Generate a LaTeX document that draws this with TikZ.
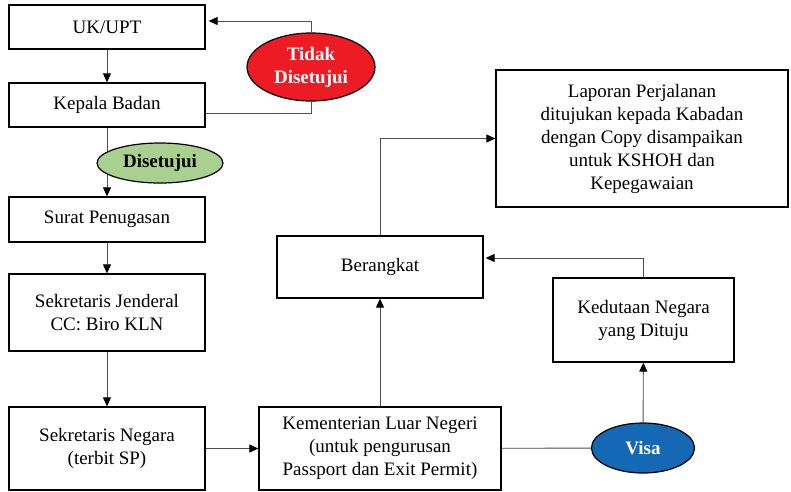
\documentclass[tikz,border=0pt]{standalone}
\usepackage{fontspec}
\setmainfont{Liberation Serif}
\usetikzlibrary{arrows.meta,shapes.geometric}

\definecolor{tolakred}{RGB}{237,28,36}
\definecolor{setujugreen}{RGB}{169,208,142}
\definecolor{visablue}{RGB}{20,104,180}
\definecolor{linegray}{RGB}{80,80,80}

\tikzset{
  box/.style={draw=black, line width=1.3pt, rectangle, align=center, inner sep=0pt,
              font=\fontsize{19}{23}\selectfont},
  oval/.style={draw=black, line width=1.2pt, ellipse, align=center, inner sep=0pt,
               font=\fontsize{19}{23}\selectfont\bfseries},
  arr/.style={draw=linegray, line width=0.9pt, -{Triangle[length=9pt,width=8pt,black]}},
  ln/.style={draw=linegray, line width=0.9pt}
}

\begin{document}
\begin{tikzpicture}[x=1pt, y=-1pt]                         % 1pt = 1px of the page
    \useasboundingbox (0,0) rectangle (791,491);

    % left column
    \node[box, minimum width=196pt, minimum height=44pt] (uk) at (107,27) {UK/UPT};
    \node[box, minimum width=196pt, minimum height=44pt] (kepala) at (107,105) {Kepala Badan};
    \node[box, minimum width=196pt, minimum height=45pt] (surat) at (107,219.5) {Surat Penugasan};
    \node[box, minimum width=196pt, minimum height=77pt] (sekjen) at (107,312.5) {Sekretaris Jenderal\\CC: Biro KLN};
    \node[box, minimum width=196pt, minimum height=83pt] (sekneg) at (107,448.5) {Sekretaris Negara\\(terbit SP)};

    % middle and right
    \node[box, minimum width=242pt, minimum height=83pt] (kemlu) at (380,448.5)
        {Kementerian Luar Negeri\\(untuk pengurusan\\Passport dan Exit Permit)};
    \node[box, minimum width=206pt, minimum height=62pt] (berangkat) at (380,267) {Berangkat};
    \node[box, minimum width=181pt, minimum height=84pt] (kedutaan) at (643.5,320) {Kedutaan Negara\\yang Dituju};
    \node[box, minimum width=292pt, minimum height=137pt] (laporan) at (642,138.5)
        {Laporan Perjalanan\\ditujukan kepada Kabadan\\dengan Copy disampaikan\\untuk KSHOH dan\\Kepegawaian};

    \node[oval, fill=tolakred, text=white, minimum width=128pt, minimum height=68pt] (tidak) at (311,67) {Tidak\\Disetujui};
    \node[oval, fill=visablue, text=white, minimum width=103pt, minimum height=50pt] (visa) at (643,448) {Visa};

    % connectors
    \draw[arr] (uk) -- (kepala);
    \draw[ln] ([yshift=-8pt]kepala.east) -| (tidak.south);
    \draw[arr] (tidak.north) |- ([xshift=3pt,yshift=6pt]uk.east);
    \draw[arr] (kepala) -- (surat);
    \draw[arr] (surat) -- (sekjen);
    \draw[arr] (sekjen) -- (sekneg);
    \draw[arr] (sekneg) -- (kemlu);
    \draw[ln] (kemlu) -- (visa);
    \draw[arr] (visa) -- (kedutaan);
    \draw[arr] (kedutaan.north) |- ([xshift=2pt,yshift=9pt]berangkat.east);
    \draw[arr] (kemlu) -- (berangkat);
    \draw[arr] (berangkat.north) |- (laporan.west);

    % on top of the Kepala Badan -> Surat line
    \node[oval, fill=setujugreen, minimum width=126pt, minimum height=40pt] (setuju) at (160,163) {Disetujui};
\end{tikzpicture}
\end{document}
